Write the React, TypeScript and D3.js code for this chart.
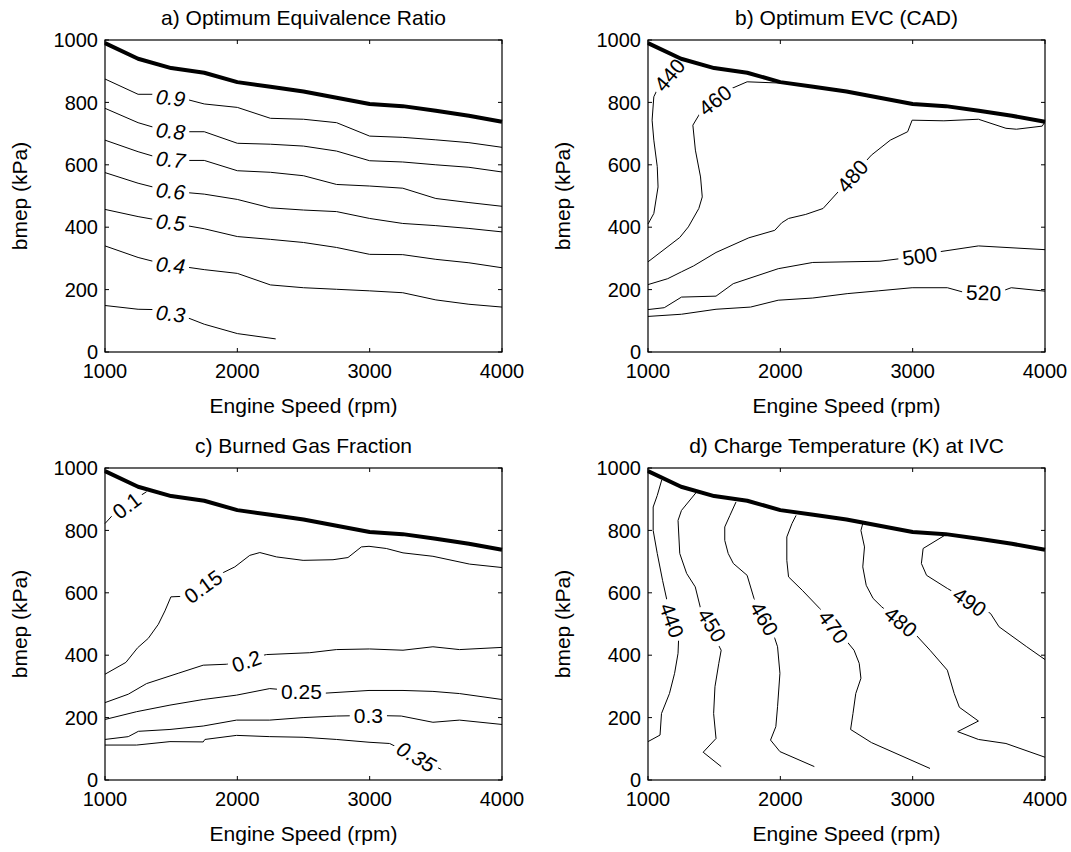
import React from 'react';
import * as d3 from 'd3';

type Pt = [number, number];

const xTicks = [1000, 2000, 3000, 4000];
const yTicks = [0, 200, 400, 600, 800, 1000];

// Max-load (full load) boundary
const boundaryRpm = [1000, 1250, 1500, 1750, 2000, 2250, 2500, 2750, 3000, 3250, 3500, 3750, 4000];
const boundaryBmep = [990, 940, 910, 895, 865, 850, 835, 815, 795, 788, 773, 757, 738];

// a) Optimum Equivalence Ratio
const phi09: Pt[] = [[1000, 875], [1250, 826], [1370, 826], [1605, 811], [1750, 795], [2000, 784], [2250, 749], [2500, 746], [2750, 735], [3000, 692], [3250, 688], [3500, 680], [3750, 671], [4000, 656]];
const phi08: Pt[] = [[1000, 781], [1250, 735], [1370, 720], [1617, 706], [1750, 706], [2000, 669], [2250, 666], [2500, 660], [2750, 644], [3000, 613], [3250, 609], [3500, 600], [3750, 592], [4000, 577]];
const phi07: Pt[] = [[1000, 679], [1250, 642], [1370, 627], [1617, 614], [1750, 614], [2000, 581], [2250, 576], [2500, 565], [2750, 537], [3000, 532], [3250, 525], [3500, 492], [3750, 479], [4000, 467]];
const phi06: Pt[] = [[1000, 575], [1250, 541], [1370, 528], [1617, 511], [1750, 506], [2000, 489], [2250, 462], [2500, 455], [2750, 450], [3000, 428], [3250, 412], [3500, 405], [3750, 396], [4000, 385]];
const phi05: Pt[] = [[1000, 457], [1250, 434], [1370, 425], [1617, 405], [1750, 395], [2000, 370], [2250, 361], [2500, 351], [2750, 335], [3000, 313], [3250, 312], [3500, 297], [3750, 286], [4000, 270]];
const phi04: Pt[] = [[1000, 340], [1250, 303], [1370, 290], [1617, 272], [1750, 264], [2000, 252], [2250, 215], [2500, 206], [2750, 201], [3000, 196], [3250, 190], [3500, 167], [3750, 153], [4000, 144]];
const phi03: Pt[] = [[1000, 149], [1250, 137], [1370, 136], [1605, 113], [1750, 89], [2000, 59], [2290, 42]];

// b) Optimum EVC (CAD)
const evc440: Pt[] = [[1000, 410], [1044, 444], [1076, 529], [1070, 594], [1044, 679], [1031, 743], [1044, 818], [1080, 850], [1240, 930]];
const evc460: Pt[] = [[1000, 289], [1240, 367], [1305, 401], [1384, 460], [1410, 497], [1397, 561], [1358, 647], [1339, 727], [1384, 759], [1400, 770], [1618, 842], [1749, 866], [1997, 862]];
const evc480: Pt[] = [[1000, 216], [1149, 235], [1253, 257], [1345, 276], [1514, 319], [1762, 366], [1958, 390], [2010, 414], [2062, 428], [2192, 441], [2323, 460], [2688, 631], [2831, 679], [2962, 706], [2996, 743], [3236, 741], [3497, 746], [3705, 717], [3784, 714], [3979, 724], [4000, 738]];
const evc500: Pt[] = [[1000, 136], [1123, 142], [1253, 176], [1514, 179], [1644, 219], [1984, 267], [2245, 287], [2753, 291], [2920, 300], [3197, 321], [3497, 340], [4000, 328]];
const evc520: Pt[] = [[1000, 114], [1253, 121], [1514, 137], [1775, 144], [1984, 166], [2245, 173], [2505, 187], [2740, 196], [2996, 206], [3262, 206], [3390, 191], [3680, 196], [3745, 206], [4000, 195]];

// c) Burned Gas Fraction
const bgf010: Pt[] = [[1000, 822], [1060, 850], [1270, 912], [1314, 924]];
const bgf015: Pt[] = [[1000, 339], [1158, 377], [1247, 424], [1327, 454], [1403, 499], [1453, 542], [1498, 587], [1604, 589], [1880, 662], [1981, 683], [2094, 720], [2170, 729], [2296, 715], [2497, 704], [2723, 706], [2836, 713], [2937, 747], [2995, 749], [3126, 742], [3252, 728], [3478, 717], [3755, 692], [4000, 681]];
const bgf020: Pt[] = [[1000, 248], [1176, 275], [1314, 309], [1553, 342], [1742, 368], [1918, 371], [2220, 402], [2547, 408], [2748, 418], [2999, 420], [3252, 416], [3478, 427], [3679, 418], [4000, 425]];
const bgf025: Pt[] = [[1000, 194], [1239, 219], [1491, 240], [1742, 258], [1994, 272], [2245, 293], [2330, 290], [2650, 278], [2995, 287], [3252, 287], [3478, 284], [3679, 277], [4000, 258]];
const bgf030: Pt[] = [[1000, 130], [1176, 139], [1252, 156], [1491, 162], [1742, 173], [1994, 192], [2245, 192], [2497, 200], [2748, 205], [2880, 206], [3126, 206], [3239, 205], [3478, 185], [3679, 192], [4000, 178]];
const bgf035: Pt[] = [[1000, 112], [1239, 112], [1491, 123], [1742, 122], [1755, 130], [1994, 143], [2245, 139], [2497, 137], [2748, 130], [2995, 121], [3151, 117], [3541, 34]];

// d) Charge Temperature (K) at IVC
const ct440: Pt[] = [[1104, 962], [1070, 912], [1039, 875], [1039, 800], [1070, 726], [1110, 640], [1143, 576], [1232, 459], [1227, 406], [1201, 342], [1162, 277], [1102, 213], [1091, 144], [1000, 123]];
const ct450: Pt[] = [[1365, 922], [1253, 864], [1227, 832], [1240, 726], [1292, 662], [1357, 619], [1410, 528], [1553, 416], [1535, 374], [1506, 299], [1496, 213], [1514, 133], [1417, 89], [1553, 43]];
const ct460: Pt[] = [[1665, 891], [1619, 848], [1580, 811], [1580, 768], [1606, 726], [1645, 694], [1749, 656], [1801, 582], [1958, 454], [1979, 427], [1997, 342], [1979, 235], [1966, 171], [1926, 128], [1997, 91], [2257, 43]];
const ct470: Pt[] = [[2119, 848], [2088, 822], [2049, 779], [2049, 704], [2062, 651], [2166, 608], [2297, 550], [2505, 443], [2557, 416], [2596, 374], [2609, 326], [2570, 277], [2549, 213], [2531, 162], [2688, 120], [3131, 37]];
const ct480: Pt[] = [[2623, 822], [2609, 800], [2636, 747], [2623, 683], [2649, 624], [2701, 582], [2766, 555], [3014, 470], [3131, 416], [3262, 352], [3314, 277], [3353, 233], [3497, 189], [3340, 155], [3497, 130], [3705, 117], [4000, 73]];
const ct490: Pt[] = [[3249, 786], [3079, 742], [3066, 694], [3105, 656], [3262, 614], [3588, 534], [3653, 491], [3862, 427], [4000, 386]];

interface Contour { pts: Pt[]; label: string; at: Pt; angle: number; italic?: boolean }

const contoursA: Contour[] = [
  { pts: phi09, label: '0.9', at: [1496, 815], angle: 6, italic: true },
  { pts: phi08, label: '0.8', at: [1496, 708], angle: 6, italic: true },
  { pts: phi07, label: '0.7', at: [1496, 617], angle: 6, italic: true },
  { pts: phi06, label: '0.6', at: [1496, 516], angle: 6, italic: true },
  { pts: phi05, label: '0.5', at: [1496, 416], angle: 6, italic: true },
  { pts: phi04, label: '0.4', at: [1496, 279], angle: 6, italic: true },
  { pts: phi03, label: '0.3', at: [1496, 123], angle: 6, italic: true },
];
const contoursB: Contour[] = [
  { pts: evc440, label: '440', at: [1162, 888], angle: -50 },
  { pts: evc460, label: '460', at: [1506, 807], angle: -38 },
  { pts: evc480, label: '480', at: [2545, 564], angle: -49 },
  { pts: evc500, label: '500', at: [3053, 308], angle: -8 },
  { pts: evc520, label: '520', at: [3536, 190], angle: 2 },
];
const contoursC: Contour[] = [
  { pts: bgf010, label: '0.1', at: [1164, 880], angle: -37 },
  { pts: bgf015, label: '0.15', at: [1742, 620], angle: -36 },
  { pts: bgf020, label: '0.2', at: [2069, 381], angle: -19 },
  { pts: bgf025, label: '0.25', at: [2484, 283], angle: 0 },
  { pts: bgf030, label: '0.3', at: [2990, 206], angle: 0 },
  { pts: bgf035, label: '0.35', at: [3352, 75], angle: 30, italic: true },
];
const contoursD: Contour[] = [
  { pts: ct440, label: '440', at: [1180, 512], angle: 71 },
  { pts: ct450, label: '450', at: [1483, 496], angle: 59 },
  { pts: ct460, label: '460', at: [1879, 517], angle: 60 },
  { pts: ct470, label: '470', at: [2401, 491], angle: 54 },
  { pts: ct480, label: '480', at: [2910, 507], angle: 40 },
  { pts: ct490, label: '490', at: [3431, 571], angle: 35 },
];

const FONT = '"Liberation Sans", Arial, Helvetica, sans-serif';
const W = 397;
const H = 312;
const LABEL_FS = 21;

function textWidth(s: string, fs: number) {
  let w = 0;
  for (const ch of s) w += ch === '.' ? 0.278 : 0.556;
  return w * fs;
}

function Panel({ id, left, top, title, contours }: { id: string; left: number; top: number; title: string; contours: Contour[] }) {
  const x = d3.scaleLinear().domain([1000, 4000]).range([left, left + W]);
  const y = d3.scaleLinear().domain([0, 1000]).range([top + H, top]);
  const line = d3.line<Pt>().x(d => x(d[0])).y(d => y(d[1]));
  const boundary: Pt[] = boundaryRpm.map((r, i) => [r, boundaryBmep[i]] as Pt);
  const tick = 4;
  return (
    <g>
      <defs>
        {contours.map((c, i) => {
          const w = textWidth(c.label, LABEL_FS) + 8;
          const h = 16;
          return (
            <mask key={i} id={`${id}-m${i}`} maskUnits="userSpaceOnUse" x={0} y={0} width={1071} height={852}>
              <rect x={0} y={0} width={1071} height={852} fill="white" />
              <rect x={-w / 2} y={-h / 2} width={w} height={h} fill="black"
                transform={`translate(${x(c.at[0])},${y(c.at[1])}) rotate(${c.angle})`} />
            </mask>
          );
        })}
      </defs>
      {contours.map((c, i) => (
        <path key={i} d={line(c.pts) || ''} fill="none" stroke="#000" strokeWidth={1} mask={`url(#${id}-m${i})`} strokeLinejoin="round" />
      ))}
      {contours.map((c, i) => (
        <text key={'t' + i} x={0} y={0} textAnchor="middle" dominantBaseline="central" fontSize={LABEL_FS}
          fontStyle={c.italic ? 'italic' : 'normal'}
          transform={`translate(${x(c.at[0])},${y(c.at[1])}) rotate(${c.angle})`}>{c.label}</text>
      ))}
      <path d={line(boundary) || ''} fill="none" stroke="#000" strokeWidth={4} strokeLinejoin="round" />
      <rect x={left} y={top} width={W} height={H} fill="none" stroke="#000" strokeWidth={1.2} />
      {xTicks.map(t => (
        <g key={'x' + t}>
          <line x1={x(t)} x2={x(t)} y1={top + H} y2={top + H - tick} stroke="#000" />
          <line x1={x(t)} x2={x(t)} y1={top} y2={top + tick} stroke="#000" />
          <text x={x(t)} y={top + H + 26} textAnchor="middle" fontSize={20}>{t}</text>
        </g>
      ))}
      {yTicks.map(t => (
        <g key={'y' + t}>
          <line x1={left} x2={left + tick} y1={y(t)} y2={y(t)} stroke="#000" />
          <line x1={left + W} x2={left + W - tick} y1={y(t)} y2={y(t)} stroke="#000" />
          <text x={left - 7} y={y(t)} dy="0.36em" textAnchor="end" fontSize={20}>{t}</text>
        </g>
      ))}
      <text x={left + W / 2} y={top - 15} textAnchor="middle" fontSize={21}>{title}</text>
      <text x={left + W / 2} y={top + H + 61} textAnchor="middle" fontSize={21}>Engine Speed (rpm)</text>
      <text transform={`translate(${left - 78},${top + H / 2}) rotate(-90)`} textAnchor="middle" fontSize={21}>bmep (kPa)</text>
    </g>
  );
}

export default function App() {
  return (
    <svg width={1071} height={852} style={{ position: 'absolute', left: 0, top: 0, background: '#fff' }}
      fontFamily={FONT} fill="#000">
      <rect x={0} y={0} width={1071} height={852} fill="#fff" />
      <Panel id="pa" left={105} top={40} title="a) Optimum Equivalence Ratio" contours={contoursA} />
      <Panel id="pb" left={648} top={40} title="b) Optimum EVC (CAD)" contours={contoursB} />
      <Panel id="pc" left={105} top={468} title="c) Burned Gas Fraction" contours={contoursC} />
      <Panel id="pd" left={648} top={468} title="d) Charge Temperature (K) at IVC" contours={contoursD} />
    </svg>
  );
}
